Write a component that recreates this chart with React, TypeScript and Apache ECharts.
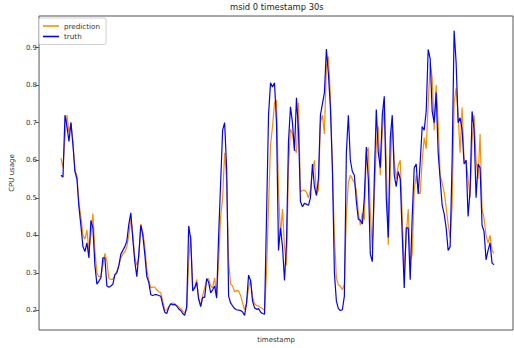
import React, { useEffect, useRef } from "react";
import * as echarts from "echarts";

const titleText = "msid 0 timestamp 30s";
const yTicks = [0.2, 0.3, 0.4, 0.5, 0.6, 0.7, 0.8, 0.9];

const truth = [
  0.56, 0.555, 0.72, 0.69, 0.65, 0.70, 0.64, 0.57, 0.55, 0.475,
  0.425, 0.37, 0.357, 0.38, 0.34, 0.44, 0.42, 0.32, 0.27, 0.278,
  0.287, 0.34, 0.34, 0.265, 0.262, 0.265, 0.27, 0.295, 0.30, 0.32,
  0.35, 0.36, 0.37, 0.385, 0.43, 0.46, 0.39, 0.33, 0.29, 0.35,
  0.427, 0.40, 0.35, 0.29, 0.275, 0.242, 0.24, 0.242, 0.242, 0.24,
  0.238, 0.215, 0.195, 0.192, 0.208, 0.218, 0.215, 0.216, 0.212, 0.204,
  0.20, 0.192, 0.187, 0.21, 0.425, 0.39, 0.252, 0.26, 0.275, 0.23,
  0.21, 0.235, 0.235, 0.285, 0.275, 0.247, 0.255, 0.265, 0.233, 0.40,
  0.54, 0.68, 0.70, 0.58, 0.238, 0.22, 0.212, 0.205, 0.202, 0.201,
  0.20, 0.196, 0.187, 0.22, 0.294, 0.28, 0.225, 0.207, 0.203, 0.205,
  0.196, 0.192, 0.19, 0.45, 0.72, 0.806, 0.795, 0.806, 0.70, 0.36,
  0.42, 0.37, 0.28, 0.38, 0.65, 0.742, 0.70, 0.625, 0.766, 0.68,
  0.49, 0.476, 0.485, 0.483, 0.48, 0.50, 0.59, 0.53, 0.506, 0.55,
  0.72, 0.75, 0.78, 0.896, 0.83, 0.74, 0.58, 0.30, 0.225, 0.205,
  0.20, 0.202, 0.238, 0.62, 0.72, 0.60, 0.57, 0.56, 0.49, 0.443,
  0.44, 0.43, 0.50, 0.635, 0.55, 0.35, 0.33, 0.55, 0.735, 0.62,
  0.58, 0.72, 0.77, 0.50, 0.394, 0.66, 0.72, 0.56, 0.53, 0.57,
  0.55, 0.40, 0.26, 0.42, 0.42, 0.282, 0.45, 0.58, 0.59, 0.51,
  0.595, 0.69, 0.68, 0.73, 0.895, 0.87, 0.73, 0.70, 0.78, 0.62,
  0.55, 0.48, 0.458, 0.42, 0.36, 0.37, 0.60, 0.945, 0.86, 0.70,
  0.713, 0.68, 0.59, 0.60, 0.45, 0.52, 0.73, 0.683, 0.50, 0.59,
  0.58, 0.427, 0.41, 0.335, 0.36, 0.38, 0.326, 0.322,
];

const prediction = [
  0.606, 0.58, 0.66, 0.72, 0.674, 0.70, 0.65, 0.573, 0.56, 0.485,
  0.45, 0.40, 0.39, 0.414, 0.36, 0.40, 0.458, 0.36, 0.30, 0.29,
  0.29, 0.32, 0.352, 0.33, 0.285, 0.283, 0.283, 0.295, 0.305, 0.32,
  0.34, 0.35, 0.355, 0.37, 0.40, 0.445, 0.40, 0.34, 0.32, 0.34,
  0.43, 0.41, 0.37, 0.31, 0.28, 0.26, 0.262, 0.262, 0.255, 0.25,
  0.247, 0.225, 0.20, 0.202, 0.21, 0.218, 0.22, 0.218, 0.213, 0.21,
  0.205, 0.198, 0.194, 0.20, 0.33, 0.40, 0.26, 0.26, 0.283, 0.23,
  0.215, 0.24, 0.26, 0.28, 0.285, 0.265, 0.26, 0.287, 0.238, 0.33,
  0.45, 0.50, 0.62, 0.55, 0.33, 0.27, 0.265, 0.25, 0.253, 0.252,
  0.24, 0.22, 0.202, 0.22, 0.26, 0.28, 0.235, 0.218, 0.213, 0.212,
  0.208, 0.205, 0.20, 0.30, 0.48, 0.64, 0.69, 0.753, 0.76, 0.52,
  0.40, 0.47, 0.37, 0.32, 0.58, 0.683, 0.67, 0.63, 0.62, 0.753,
  0.515, 0.52, 0.52, 0.515, 0.50, 0.52, 0.57, 0.60, 0.51, 0.52,
  0.70, 0.72, 0.67, 0.85, 0.876, 0.77, 0.58, 0.40, 0.287, 0.268,
  0.265, 0.255, 0.27, 0.45, 0.54, 0.56, 0.55, 0.54, 0.52, 0.46,
  0.427, 0.46, 0.44, 0.62, 0.634, 0.46, 0.366, 0.50, 0.64, 0.69,
  0.56, 0.67, 0.744, 0.60, 0.375, 0.568, 0.709, 0.60, 0.55, 0.586,
  0.60, 0.45, 0.30, 0.40, 0.47, 0.33, 0.35, 0.52, 0.56, 0.52,
  0.51, 0.60, 0.66, 0.63, 0.75, 0.859, 0.82, 0.68, 0.80, 0.70,
  0.56, 0.54, 0.515, 0.475, 0.43, 0.394, 0.48, 0.753, 0.793, 0.72,
  0.62, 0.74, 0.60, 0.60, 0.55, 0.50, 0.65, 0.72, 0.60, 0.55,
  0.67, 0.47, 0.445, 0.40, 0.38, 0.40, 0.36, 0.352,
];

const FONT = "DejaVu Sans";

export default function App() {
  const ref = useRef<HTMLDivElement>(null);
  useEffect(() => {
    if (!ref.current) return;
    const chart = echarts.init(ref.current, null, { renderer: "svg" });
    const n = truth.length;
    chart.setOption({
      animation: false,
      backgroundColor: "#ffffff",
      textStyle: { fontFamily: FONT },
      title: {
        text: titleText,
        left: 230,
        top: 3,
        padding: 0,
        textStyle: { fontFamily: FONT, fontSize: 8.4, fontWeight: "normal", color: "#222" },
      },
      legend: {
        data: [
          { name: "prediction", icon: "rect" },
          { name: "truth", icon: "rect" },
        ],
        orient: "vertical",
        left: 39,
        top: 18,
        padding: [4, 6, 4, 4],
        itemWidth: 16,
        itemHeight: 1.6,
        itemGap: 2.5,
        itemTextGap: 6,
        backgroundColor: "rgba(255,255,255,0.9)",
        borderColor: "#d0d0d0",
        borderWidth: 1,
        borderRadius: 2,
        textStyle: { fontFamily: FONT, fontSize: 7.2, color: "#333", lineHeight: 8 },
      },
      grid: {
        left: 38,
        right: 1,
        top: 16,
        bottom: 16,
        show: true,
        borderColor: "#555",
        borderWidth: 1,
        backgroundColor: "transparent",
      },
      xAxis: {
        type: "value",
        min: -11,
        max: n - 1 + 9.5,
        name: "timestamp",
        nameLocation: "middle",
        nameGap: 6,
        nameTextStyle: { fontFamily: FONT, fontSize: 7, color: "#333" },
        axisLine: { show: false, onZero: false },
        axisTick: { show: false },
        axisLabel: { show: false },
        splitLine: { show: false },
      },
      yAxis: {
        type: "value",
        min: 0.148,
        max: 0.984,
        name: "CPU usage",
        nameLocation: "middle",
        nameGap: 15,
        nameTextStyle: { fontFamily: FONT, fontSize: 7, color: "#333" },
        axisLine: { show: false, onZero: false },
        axisTick: {
          show: true,
          length: 3.5,
          lineStyle: { color: "#555" },
          customValues: yTicks,
        },
        axisLabel: {
          fontFamily: FONT,
          fontSize: 7,
          color: "#333",
          margin: 2,
          customValues: yTicks,
          formatter: (v: number) => v.toFixed(1),
        },
        splitLine: { show: false },
      },
      series: [
        {
          name: "prediction",
          type: "line",
          symbol: "none",
          showSymbol: false,
          color: "#ff8c00",
          lineStyle: { color: "#ff8c00", width: 1.2 },
          data: prediction.map((v, i) => [i, v]),
        },
        {
          name: "truth",
          type: "line",
          symbol: "none",
          showSymbol: false,
          color: "#0000ff",
          lineStyle: { color: "#0000ff", width: 1.2 },
          data: truth.map((v, i) => [i, v]),
        },
      ],
    });
    return () => chart.dispose();
  }, []);
  return <div ref={ref} style={{ width: 514, height: 348, position: "absolute", left: 0, top: 0 }} />;
}
